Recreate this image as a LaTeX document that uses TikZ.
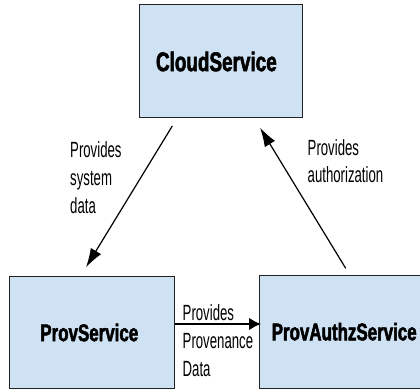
\documentclass[tikz,border=0pt]{standalone}
\usepackage{fontspec}
\setmainfont{Liberation Sans}
\newfontfamily\titlefont[FakeStretch=0.70,BoldFeatures={FakeBold=2}]{Liberation Sans}
\newfontfamily\labelfont[FakeStretch=0.60]{Liberation Sans}
\usetikzlibrary{arrows.meta}
\definecolor{boxfill}{HTML}{CFE2F3}
\definecolor{boxline}{HTML}{222222}
\begin{document}
\begin{tikzpicture}[x=1pt,y=-1pt,
  svcbox/.style={draw=boxline, fill=boxfill, line width=1pt, inner sep=0pt,
    font=\titlefont\bfseries\fontsize{24.2}{29}\selectfont},
  lbl/.style={inner sep=0pt, anchor=north west, align=left,
    font=\labelfont\fontsize{22}{27.7}\selectfont},
  thinarrow/.style={line width=1.2pt, -{Latex[length=19pt,width=12pt]}},
  thickarrow/.style={line width=2.4pt, -{Latex[length=12pt,width=13pt]}}]
\useasboundingbox (0,0) rectangle (420,390);
\fill[white] (0,0) rectangle (420,390);
\node[svcbox, minimum width=162.5pt, minimum height=113pt,
  font=\titlefont\bfseries\fontsize{27}{32}\selectfont] (cloud) at (220.75,61.5) {CloudService\hspace*{8.8pt}};
\node[svcbox, minimum width=165.5pt, minimum height=111.6pt] (prov) at (91.75,332.5) {ProvService\hspace*{4.9pt}};
\node[svcbox, minimum width=170.4pt, minimum height=113.3pt] (authz) at (344.2,331.65) {ProvAuthzService};
\coordinate (a1s) at (172.3,126);
\coordinate (a1e) at (86,267.3);
\coordinate (a2s) at (345.7,268.3);
\coordinate (a2e) at (260,127.7);
\coordinate (a3e) at (261,324);
\draw[thinarrow] (a1s) -- (a1e);
\draw[thinarrow] (a2s) -- (a2e);
\draw[thickarrow] (prov.east |- a3e) -- (a3e);
\node[lbl] (l1) at (70,141.7) {Provides\\system\\data};
\node[lbl] (l2) at (307.5,139) {Provides\\authorization};
\node[lbl] (l3) at (182.5,304.7) {Provides\\Provenance\\Data};
\end{tikzpicture}
\end{document}
